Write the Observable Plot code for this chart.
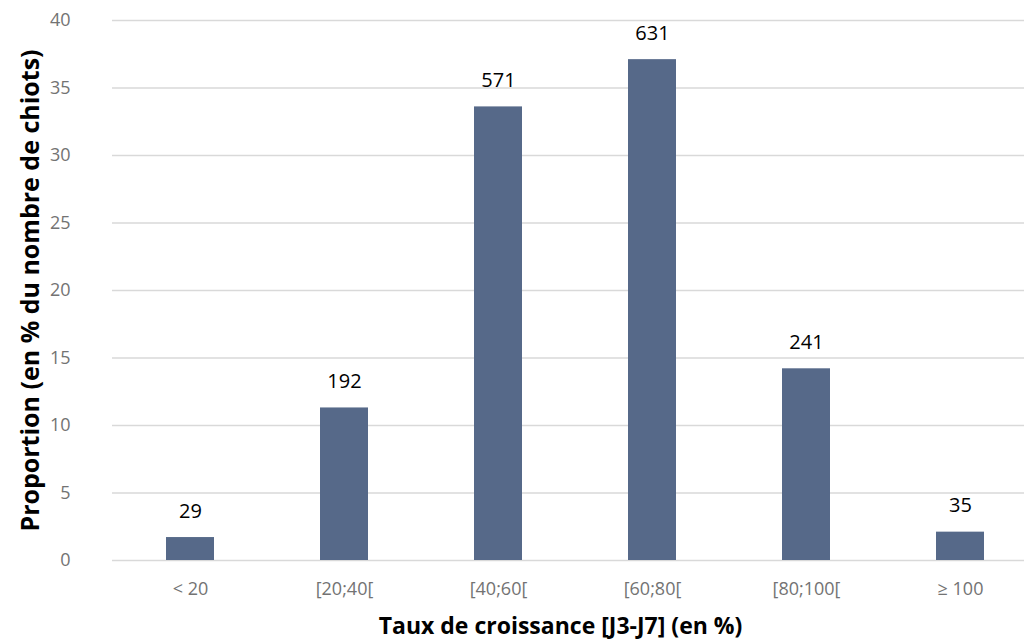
<!DOCTYPE html>
<html>
<head>
<meta charset="utf-8">
<script src="https://cdn.jsdelivr.net/npm/d3@7"></script>
<script src="https://cdn.jsdelivr.net/npm/@observablehq/plot@0.6"></script>
<style>
  html, body { margin: 0; padding: 0; background: #fff; overflow: hidden; }
  svg { font-family: "Open Sans", sans-serif; }
</style>
</head>
<body>
<div id="chart"></div>
<script>
const categories = ["< 20", "[20;40[", "[40;60[", "[60;80[", "[80;100[", "≥ 100"];
const proportions = [1.7, 11.3, 33.6, 37.1, 14.2, 2.1];
const counts = [29, 192, 571, 631, 241, 35];
const yTicks = [0, 5, 10, 15, 20, 25, 30, 35, 40];
const xTitle = "Taux de croissance [J3-J7] (en %)";
const yTitle = "Proportion (en % du nombre de chiots)";

const data = categories.map((c, i) => ({cat: c, pct: proportions[i], n: counts[i]}));

const chart = Plot.plot({
  width: 1024,
  height: 641,
  marginTop: 20,
  marginBottom: 81,
  marginLeft: 112,
  marginRight: 0,
  style: {fontFamily: "'Open Sans', sans-serif", background: "#fff", overflow: "visible"},
  x: {domain: categories, range: [112.5, 1037], paddingInner: 0.69, paddingOuter: 0.345, align: 0.5},
  y: {domain: [0, 40], ticks: yTicks},
  marks: [
    Plot.ruleY(yTicks, {stroke: "#d9d9d9", strokeWidth: 1.3}),
    Plot.barY(data, {x: "cat", y: "pct", fill: "#566989"}),
    Plot.text(data, {x: "cat", y: "pct", text: d => String(d.n), dy: -20, lineAnchor: "bottom", fontSize: 20, fill: "#000"}),
    Plot.axisX({tickSize: 0, tickPadding: 22, fontSize: 18, color: "#737373", label: null}),
    Plot.axisY({ticks: yTicks, tickSize: 0, tickPadding: 42, fontSize: 18, color: "#737373", label: null}),
    Plot.text([xTitle], {frameAnchor: "bottom", dx: -8, dy: 66, fontSize: 23, fontWeight: "bold", fill: "#000", lineAnchor: "middle", textAnchor: "middle"}),
    Plot.text([yTitle], {frameAnchor: "left", dx: -82, rotate: -90, fontSize: 25, fontWeight: "bold", fill: "#000", lineAnchor: "middle", textAnchor: "middle"})
  ]
});
document.getElementById("chart").appendChild(chart);
</script>
</body>
</html>
